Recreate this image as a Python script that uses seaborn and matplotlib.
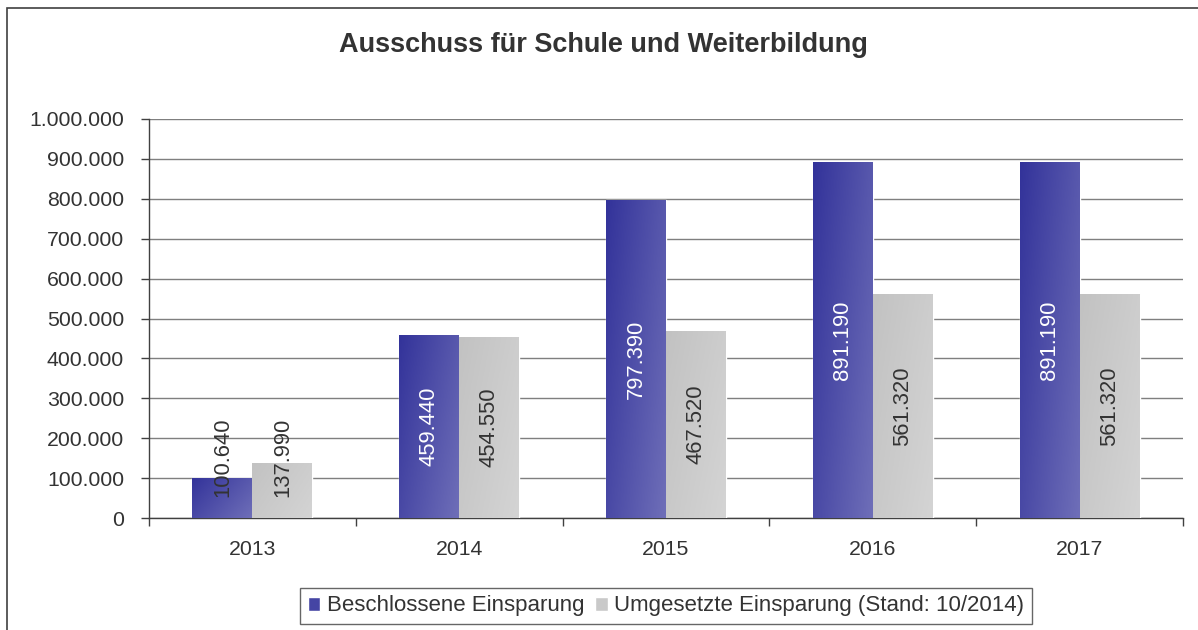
import matplotlib
matplotlib.use("Agg")
import matplotlib.pyplot as plt
import numpy as np
import pandas as pd
import seaborn as sns
from matplotlib.colors import LinearSegmentedColormap
from matplotlib.patches import Rectangle
from matplotlib.ticker import FuncFormatter, MultipleLocator

# Data
years = ["2013", "2014", "2015", "2016", "2017"]
beschlossen = [100640, 459440, 797390, 891190, 891190]
umgesetzt = [137990, 454550, 467520, 561320, 561320]
series_names = ["Beschlossene Einsparung", "Umgesetzte Einsparung (Stand: 10/2014)"]

df = pd.DataFrame({
    "year": years * 2,
    "value": beschlossen + umgesetzt,
    "series": [series_names[0]] * len(years) + [series_names[1]] * len(years),
})

sns.set_style("white")
plt.rcParams["font.family"] = ["Liberation Sans", "DejaVu Sans"]
text_col = "#333333"


def de_fmt(v, pos=None):
    return f"{v:,.0f}".replace(",", ".")


fig = plt.figure(figsize=(11.98, 6.30), dpi=100)
ax = fig.add_axes([149 / 1198, 112 / 630, 1034 / 1198, 399 / 630])

sns.barplot(data=df, x="year", y="value", hue="series", order=years,
            hue_order=series_names, palette=["#4a4aa6", "#c9c9c9"],
            saturation=1, width=0.58, ax=ax, legend=True, zorder=3)

# gradient fills clipped to each bar (dark top-left -> light bottom-right)
grads = [LinearSegmentedColormap.from_list("b", ["#33339a", "#6e6eb8"]),
         LinearSegmentedColormap.from_list("g", ["#c2c2c2", "#d4d4d4"])]
gx, gy = np.meshgrid(np.linspace(0, 1, 40), np.linspace(0, 1, 40))
grad = (gx + gy * 0.6) / 1.6
for cont, cmap in zip(ax.containers, grads):
    for p in cont:
        x0, y0 = p.get_x(), p.get_y()
        w, h = p.get_width(), p.get_height()
        im = ax.imshow(grad, cmap=cmap, aspect="auto", origin="upper",
                       extent=[x0, x0 + w, y0, y0 + h], zorder=3.5)
        im.set_clip_path(p)

# value labels, rotated, centered in bar
min_center = 152000
for cont, vals, lab_col in zip(ax.containers, [beschlossen, umgesetzt], ["white", text_col]):
    for p, v in zip(cont, vals):
        cy = max(v / 2, min_center)
        col = lab_col if v / 2 >= min_center else text_col
        ax.text(p.get_x() + p.get_width() / 2, cy, de_fmt(v), rotation=90,
                ha="center", va="center", fontsize=15.8, color=col, zorder=5)

ax.set_xlim(-0.5, 4.5)
ax.set_ylim(0, 1000000)
ax.yaxis.set_major_locator(MultipleLocator(100000))
ax.yaxis.set_major_formatter(FuncFormatter(de_fmt))
ax.grid(axis="y", color="#7f7f7f", linewidth=1, zorder=0)
ax.set_axisbelow(True)
ax.set_xlabel("")
ax.set_ylabel("")

for s in ["top", "right"]:
    ax.spines[s].set_visible(False)
for s in ["left", "bottom"]:
    ax.spines[s].set_color("#404040")
    ax.spines[s].set_linewidth(1)

ax.tick_params(axis="y", direction="out", length=6, width=1, color="#404040",
               labelsize=15.3, labelcolor=text_col, pad=12, left=True)
ax.tick_params(axis="x", which="major", length=0, labelsize=15.3,
               labelcolor=text_col, pad=16)
ax.set_xticks(np.arange(-0.5, 5, 1), minor=True)
ax.tick_params(axis="x", which="minor", direction="out", length=6, width=1,
               color="#404040", bottom=True)

fig.suptitle("Ausschuss für Schule und Weiterbildung", x=603 / 1198, y=1 - 45 / 630,
             va="center", fontsize=19.5, fontweight="bold", color=text_col)

leg = ax.legend(loc="center", bbox_to_anchor=(666 / 1198, 1 - 606 / 630),
                bbox_transform=fig.transFigure, ncol=2, frameon=True,
                fancybox=False, fontsize=16, handlelength=0.55, handleheight=0.6,
                handletextpad=0.3, columnspacing=0.5, borderpad=0.35)
leg.get_frame().set_edgecolor("#404040")
leg.get_frame().set_linewidth(1)
for t in leg.get_texts():
    t.set_color(text_col)
for h, c in zip(leg.legend_handles, ["#4545a4", "#c9c9c9"]):
    h.set_facecolor(c)

fig.patches.append(Rectangle((7 / 1198, -0.05), 1.1, 1 - 8 / 630 + 0.05,
                             transform=fig.transFigure, fill=False,
                             edgecolor="#404040", linewidth=1.2))

fig.savefig("out.png", dpi=100)
